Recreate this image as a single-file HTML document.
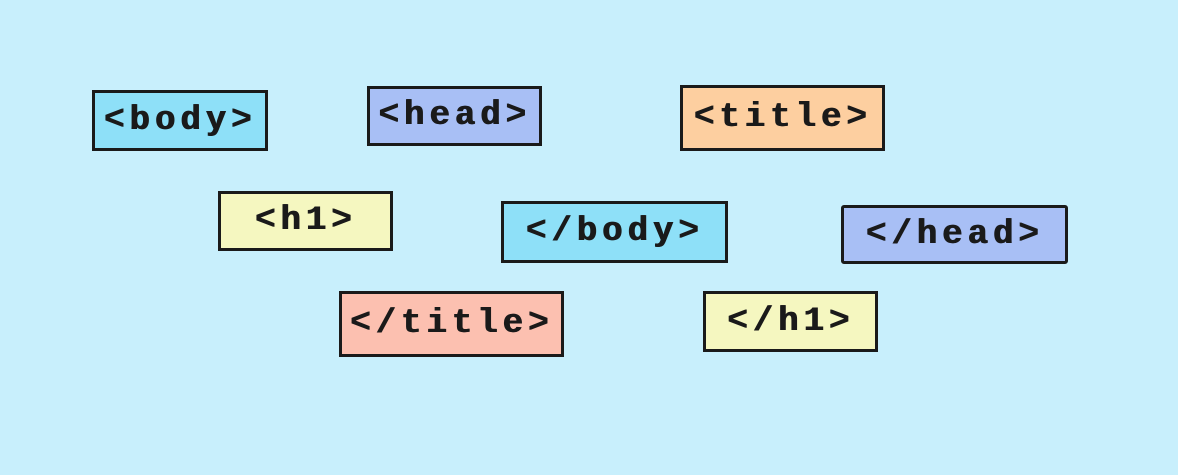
<!DOCTYPE html>
<html><head><style>
body{margin:0;width:1178px;height:475px;background:#c8effc;position:relative;overflow:hidden}
.b{position:absolute;box-sizing:border-box;border:3px solid #1a1a1a;display:flex;align-items:center;justify-content:center;font-family:"Liberation Mono",monospace;font-weight:bold;font-size:34px;letter-spacing:5px;color:#1a1a1a;white-space:nowrap;text-shadow:1px 0 0 #1a1a1a}
</style></head><body>
<div class="b" style="left:92px;top:90px;width:176px;height:61px;background:#8ee0f8">&lt;body&gt;</div>
<div class="b" style="left:367px;top:86px;width:175px;height:60px;background:#a8bff5">&lt;head&gt;</div>
<div class="b" style="left:680px;top:85px;width:205px;height:66px;background:#fdcfa0">&lt;title&gt;</div>
<div class="b" style="left:218px;top:191px;width:175px;height:60px;background:#f5f7c0">&lt;h1&gt;</div>
<div class="b" style="left:501px;top:201px;width:227px;height:62px;background:#8ee0f8">&lt;/body&gt;</div>
<div class="b" style="left:841px;top:205px;width:227px;height:59px;background:#a8bff5;border-radius:3px">&lt;/head&gt;</div>
<div class="b" style="left:339px;top:291px;width:225px;height:66px;background:#fcc0b0">&lt;/title&gt;</div>
<div class="b" style="left:703px;top:291px;width:175px;height:61px;background:#f5f7c0">&lt;/h1&gt;</div>
</body></html>
